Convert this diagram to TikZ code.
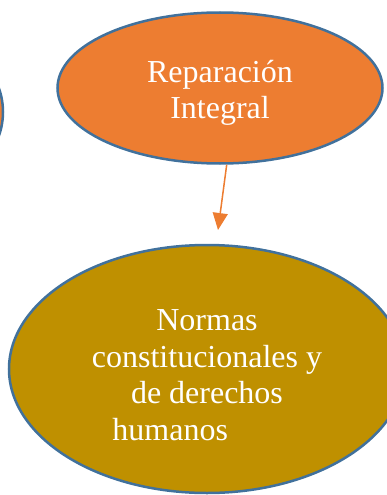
\documentclass[tikz,border=0pt]{standalone}
\usepackage{fontspec}
\setmainfont{Liberation Serif}
\usepackage{tikz}
\usetikzlibrary{shapes.geometric,arrows.meta}
\definecolor{naranja}{HTML}{ED7D31}
\definecolor{dorado}{HTML}{BF9000}
\definecolor{borde}{HTML}{41719C}

\begin{document}
\begin{tikzpicture}[x=1pt,y=-1pt,
        burbuja/.style={ellipse, draw=borde, line width=2.5pt, inner sep=0pt},
        texto/.style={text=white, align=center, font=\fontsize{32}{36.5}\selectfont}]
                \useasboundingbox (0,0) rectangle (387,495);
                \node [burbuja, fill=naranja, minimum width=162pt, minimum height=151pt] (otra) at (-78,112) {};
                \node [burbuja, fill=naranja, minimum width=325pt, minimum height=151pt] (reparacion) at (220,88) {};
                \node [burbuja, fill=dorado, minimum width=396pt, minimum height=248pt] (normas) at (207,369) {};

                \node [texto] (reparaciontexto) at ([yshift=-5pt]reparacion.center) {Reparación\\Integral};
                \node [texto] (normastexto) at ([yshift=-6pt]normas.center)
                    {Normas\\constitucionales y\\de derechos\\humanos\hspace*{2.3em}};

                \coordinate (punta) at (218,230);
                \draw [naranja, line width=1.5pt, -{Triangle[width=15pt,length=17pt]}] (reparacion.275) -- (punta);
            \end{tikzpicture}
\end{document}
